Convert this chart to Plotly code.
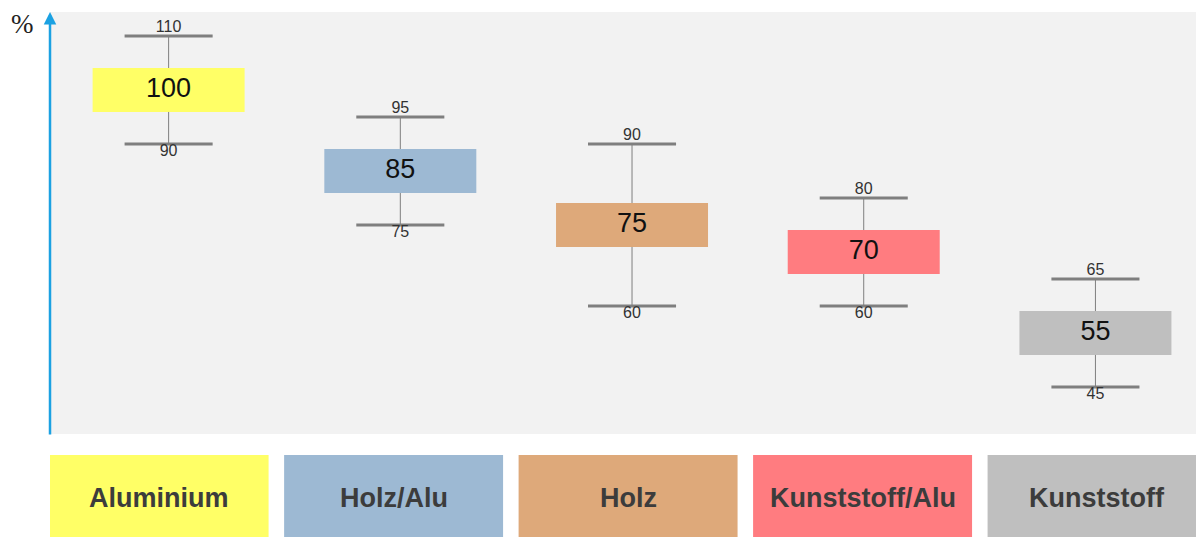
import plotly.graph_objects as go

categories = ["Aluminium", "Holz/Alu", "Holz", "Kunststoff/Alu", "Kunststoff"]
mid_values = [100, 85, 75, 70, 55]
max_values = [110, 95, 90, 80, 65]
min_values = [90, 75, 60, 60, 45]
colors = ["#FFFF66", "#9DB9D3", "#DEA97A", "#FF7C80", "#BFBFBF"]

FONT = "Arial, Liberation Sans, sans-serif"
BOX_H = 4.07      # half height of the value box (data units)
BOX_W = 0.656     # box width (category units)
CAP_HW = 0.19     # cap half width
LABEL_W = 0.945   # category label box width
LABEL_STEP = 1.012
LABEL_OFF = -0.041

xs = list(range(len(categories)))

fig = go.Figure()

# value boxes
fig.add_trace(go.Bar(
    x=xs, y=[2 * BOX_H] * len(xs), base=[v - BOX_H for v in mid_values],
    width=BOX_W, marker=dict(color=colors, line=dict(width=0)),
    hoverinfo="skip", showlegend=False))

# whiskers (thin vertical lines outside the boxes)
wx, wy = [], []
for i, v, hi, lo in zip(xs, mid_values, max_values, min_values):
    wx += [i, i, None, i, i, None]
    wy += [hi, v + BOX_H, None, v - BOX_H, lo, None]
fig.add_trace(go.Scatter(x=wx, y=wy, mode="lines",
                         line=dict(color="#7F7F7F", width=1),
                         hoverinfo="skip", showlegend=False))

# caps
cx, cy = [], []
for i, hi, lo in zip(xs, max_values, min_values):
    cx += [i - CAP_HW, i + CAP_HW, None, i - CAP_HW, i + CAP_HW, None]
    cy += [hi, hi, None, lo, lo, None]
fig.add_trace(go.Scatter(x=cx, y=cy, mode="lines",
                         line=dict(color="#7F7F7F", width=3),
                         hoverinfo="skip", showlegend=False))

# value text
fig.add_trace(go.Scatter(x=xs, y=mid_values, mode="text",
                         text=[str(v) for v in mid_values],
                         textfont=dict(family=FONT, size=27, color="#111111"),
                         hoverinfo="skip", showlegend=False))
fig.add_trace(go.Scatter(x=xs, y=max_values, mode="text",
                         text=[str(v) for v in max_values], textposition="top center",
                         textfont=dict(family=FONT, size=16, color="#333333"),
                         hoverinfo="skip", showlegend=False))
fig.add_trace(go.Scatter(x=xs, y=min_values, mode="text",
                         text=[str(v) for v in min_values], textposition="bottom center",
                         textfont=dict(family=FONT, size=16, color="#333333"),
                         hoverinfo="skip", showlegend=False))

# category label boxes below the plot
shapes = []
annotations = []
for i, (c, col) in enumerate(zip(categories, colors)):
    xc = LABEL_OFF + i * LABEL_STEP
    shapes.append(dict(type="rect", xref="x", yref="paper",
                       x0=xc - LABEL_W / 2, x1=xc + LABEL_W / 2, y0=-0.26, y1=-0.0498,
                       fillcolor=col, line=dict(width=0), layer="above"))
    annotations.append(dict(x=xc, y=-0.1517, xref="x", yref="paper", text="<b>%s</b>" % c,
                            showarrow=False, xanchor="center", yanchor="middle",
                            font=dict(family=FONT, size=27, color="#3C3C3C")))

# y-axis arrow
annotations.append(dict(x=0, y=1.0, xref="paper", yref="paper", ax=0, ay=424,
                        axref="pixel", ayref="pixel", text="", showarrow=True,
                        arrowhead=2, arrowsize=1, arrowwidth=2.5, arrowcolor="#1BA1E2"))
annotations.append(dict(x=-0.0244, y=0.9716, xref="paper", yref="paper", text="%",
                        showarrow=False, xanchor="center", yanchor="middle",
                        font=dict(family="Liberation Serif, Times New Roman, serif", size=27, color="#222222")))

fig.update_layout(
    width=1196, height=537,
    margin=dict(l=50, r=0, t=12, b=103),
    paper_bgcolor="white", plot_bgcolor="#F2F2F2",
    xaxis=dict(range=[-0.5119, 4.434], visible=False, fixedrange=True),
    yaxis=dict(range=[36.3, 114.44], visible=False, fixedrange=True),
    shapes=shapes, annotations=annotations, showlegend=False,
)

fig.write_html("out.html", config={"displayModeBar": False},
               post_script="document.body.style.margin='0';document.body.style.overflow='hidden';")
